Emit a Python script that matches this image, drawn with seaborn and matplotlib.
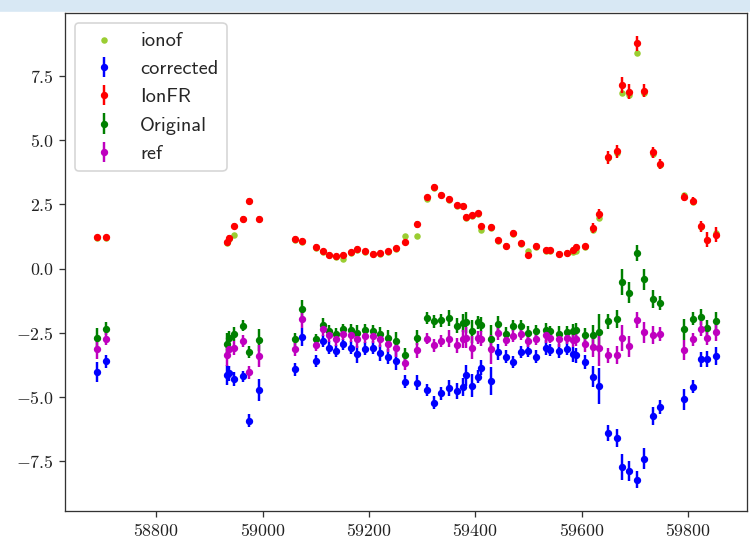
import numpy as np
import seaborn as sns
import matplotlib.pyplot as plt
from matplotlib.patches import Rectangle

### DATA ###
mjd = [58689, 58706,
       58933, 58937, 58946, 58964, 58975, 58993,
       59061, 59075, 59100, 59113, 59125, 59138, 59152, 59166, 59178, 59192,
       59207, 59221, 59236, 59251, 59268, 59291, 59308, 59322, 59336, 59351,
       59366, 59376, 59382, 59394, 59405, 59411, 59430, 59442, 59457, 59471,
       59485, 59499, 59514, 59533, 59540, 59557, 59571, 59583, 59589, 59606,
       59620, 59632, 59648, 59665, 59676, 59689, 59703, 59717, 59734, 59746,
       59792, 59808, 59823, 59834, 59852]

ionof = [1.20, 1.20,
         1.00, 1.15, 1.30, 1.92, 2.62, 1.92,
         1.12, 1.05, 0.82, 0.65, 0.52, 0.45, 0.38, 0.60, 0.74, 0.64,
         0.55, 0.58, 0.64, 0.75, 1.26, 1.26, 2.70, 3.15, 2.85, 2.66,
         2.42, 2.43, 1.98, 2.04, 2.12, 1.50, 1.58, 1.07, 0.86, 1.35,
         0.95, 0.67, 0.85, 0.70, 0.70, 0.55, 0.60, 0.65, 0.68, 0.84,
         1.52, 1.98, 4.30, 4.50, 6.85, 6.75, 8.38, 6.85, 4.45, 4.02,
         2.85, 2.60, 1.60, 1.10, 1.38]

ionfr = [1.23, 1.22,
         1.02, 1.19, 1.67, 1.94, 2.65, 1.94,
         1.15, 1.09, 0.84, 0.67, 0.54, 0.48, 0.54, 0.63, 0.77, 0.67,
         0.58, 0.61, 0.67, 0.79, 1.04, 1.72, 2.77, 3.18, 2.88, 2.71,
         2.46, 2.45, 2.02, 2.07, 2.15, 1.64, 1.62, 1.10, 0.89, 1.39,
         0.98, 0.54, 0.88, 0.72, 0.72, 0.58, 0.62, 0.74, 0.85, 0.87,
         1.58, 2.13, 4.34, 4.56, 7.15, 6.89, 8.77, 6.93, 4.52, 4.08,
         2.79, 2.62, 1.64, 1.13, 1.32]

ionfr_err = [0.08, 0.08,
             0.10, 0.10, 0.10, 0.10, 0.10, 0.10,
             0.10, 0.10, 0.10, 0.10, 0.10, 0.10, 0.10, 0.10, 0.10, 0.10,
             0.10, 0.10, 0.10, 0.10, 0.10, 0.15, 0.10, 0.10, 0.10, 0.10,
             0.10, 0.10, 0.10, 0.10, 0.10, 0.10, 0.10, 0.10, 0.10, 0.10,
             0.10, 0.10, 0.10, 0.10, 0.10, 0.10, 0.10, 0.10, 0.12, 0.10,
             0.20, 0.20, 0.25, 0.25, 0.30, 0.30, 0.30, 0.25, 0.20, 0.20,
             0.15, 0.15, 0.20, 0.30, 0.30]

original = [-2.69, -2.34,
            -2.92, -2.72, -2.55, -2.22, -3.25, -2.79,
            -2.76, -1.59, -2.76, -2.18, -2.44, -2.56, -2.37, -2.40, -2.50, -2.40,
            -2.44, -2.56, -2.69, -2.82, -3.36, -2.69, -1.92, -2.05, -2.01, -1.92,
            -2.22, -2.11, -2.09, -2.44, -2.09, -2.18, -2.73, -2.14, -2.53, -2.22,
            -2.22, -2.50, -2.44, -2.40, -2.44, -2.53, -2.47, -2.44, -2.40, -2.60,
            -2.60, -2.47, -2.05, -1.96, -0.52, -0.94, 0.61, -0.42, -1.20, -1.33,
            -2.37, -1.96, -1.88, -2.31, -2.05]

ref = [-3.15, -2.73,
       -3.38, -3.15, -3.10, -2.82, -4.04, -3.40,
       -3.15, -1.96, -2.99, -2.37, -2.60, -2.76, -2.56, -2.60, -2.76, -2.63,
       -2.63, -2.76, -2.95, -3.08, -3.69, -3.18, -2.73, -2.99, -2.82, -2.73,
       -2.99, -2.76, -2.69, -3.08, -2.69, -2.73, -3.15, -2.50, -2.78, -2.63,
       -2.56, -2.82, -2.73, -2.60, -2.69, -2.76, -2.69, -2.78, -2.73, -2.95,
       -3.04, -3.08, -3.38, -3.38, -2.70, -3.03, -2.00, -2.48, -2.60, -2.55,
       -3.17, -2.76, -2.34, -2.69, -2.47]

corrected = [-4.03, -3.61,
             -4.14, -4.08, -4.30, -4.20, -5.93, -4.73,
             -3.92, -2.67, -3.60, -2.82, -3.08, -3.21, -2.95, -3.08, -3.34, -3.12,
             -3.08, -3.28, -3.43, -3.60, -4.40, -4.44, -4.73, -5.22, -4.86, -4.64,
             -4.77, -4.60, -4.16, -4.57, -4.21, -3.86, -4.38, -3.25, -3.43, -3.64,
             -3.25, -3.21, -3.43, -3.08, -3.17, -3.21, -3.12, -3.34, -3.38, -3.64,
             -4.21, -4.57, -6.40, -6.58, -7.73, -7.88, -8.22, -7.40, -5.75, -5.40,
             -5.09, -4.60, -3.54, -3.52, -3.40]

low_err = [0.38, 0.25,
           0.40, 0.30, 0.28, 0.22, 0.25, 0.42,
           0.25, 0.35, 0.22, 0.25, 0.25, 0.25, 0.22, 0.25, 0.32, 0.25,
           0.25, 0.30, 0.30, 0.35, 0.25, 0.30, 0.22, 0.25, 0.25, 0.32,
           0.30, 0.35, 0.40, 0.45, 0.25, 0.30, 0.55, 0.30, 0.25, 0.22,
           0.22, 0.25, 0.25, 0.28, 0.22, 0.28, 0.25, 0.28, 0.30, 0.28,
           0.40, 0.70, 0.30, 0.35, 0.50, 0.40, 0.32, 0.40, 0.35, 0.28,
           0.40, 0.25, 0.30, 0.30, 0.35]

### STYLE ###
sns.set_style('ticks')
plt.rcParams['font.family'] = 'serif'
plt.rcParams['font.serif'] = ['cmr10']
plt.rcParams['mathtext.fontset'] = 'cm'
plt.rcParams['axes.formatter.use_mathtext'] = True
plt.rcParams['axes.edgecolor'] = '#333333'
plt.rcParams['xtick.color'] = '#333333'
plt.rcParams['ytick.color'] = '#333333'
plt.rcParams['xtick.labelcolor'] = '#222222'
plt.rcParams['ytick.labelcolor'] = '#222222'

fig = plt.figure(figsize=(750 / 117, 546 / 117), dpi=117)
ax = fig.add_axes([0.0867, 0.0641, 0.9093, 0.912])

# screenshot strip along the top
fig.patches.append(Rectangle((0, 1 - 11 / 546), 1, 11 / 546, transform=fig.transFigure,
                             color='#d8e8f4', zorder=-1))

sns.scatterplot(x=mjd, y=ionof, color='yellowgreen', s=16, linewidth=0,
                label='ionof', ax=ax)
ax.errorbar(mjd, corrected, yerr=low_err, fmt='.', color='b', ms=7, label='corrected')
ax.errorbar(mjd, ionfr, yerr=ionfr_err, fmt='.', color='r', ms=7, label='IonFR')
ax.errorbar(mjd, original, yerr=low_err, fmt='.', color='g', ms=7, label='Original')
ax.errorbar(mjd, ref, yerr=low_err, fmt='.', color='m', ms=7, label='ref')

ax.set_xlim(58629, 59910)
ax.set_ylim(-9.44, 9.95)
ax.set_xticks([58800, 59000, 59200, 59400, 59600, 59800])
ax.set_yticks([-7.5, -5.0, -2.5, 0.0, 2.5, 5.0, 7.5])
ax.tick_params(labelsize=11)

ax.legend(loc='upper left', prop={'family': 'cmss10', 'size': 12.5})

fig.savefig('out.png', dpi=117)
